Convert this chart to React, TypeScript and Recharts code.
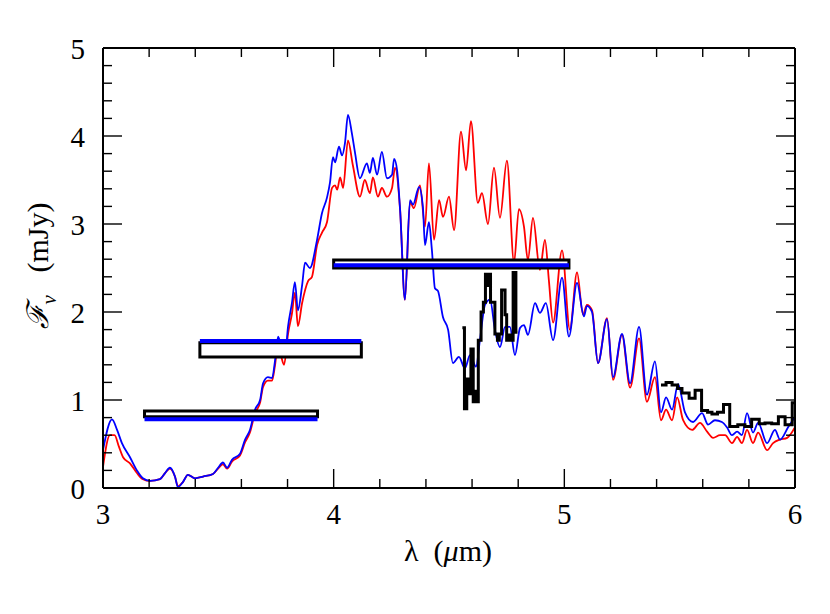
import React from 'react';
import { ComposedChart, Line, XAxis, YAxis, ReferenceArea, ReferenceLine } from 'recharts';

// model spectra, [lambda (um), flux (mJy)]
const redSpectrum: [number, number][] = [
  [3.000, 0.24], [3.030, 0.60], [3.050, 0.60], [3.069, 0.47], [3.087, 0.35], [3.117, 0.28], [3.147, 0.17],
  [3.173, 0.10], [3.204, 0.08], [3.247, 0.10], [3.269, 0.17], [3.290, 0.22], [3.312, 0.13], [3.325, 0.02],
  [3.347, 0.07], [3.368, 0.15], [3.399, 0.11], [3.434, 0.13], [3.477, 0.16], [3.499, 0.22], [3.520, 0.27],
  [3.538, 0.22], [3.559, 0.30], [3.594, 0.37], [3.616, 0.52], [3.637, 0.63], [3.659, 0.85], [3.681, 0.97],
  [3.694, 1.15], [3.715, 1.22], [3.733, 1.22], [3.746, 1.40], [3.759, 1.65], [3.772, 1.50], [3.785, 1.40],
  [3.802, 1.75], [3.819, 1.98], [3.832, 2.22], [3.845, 1.84], [3.863, 2.10], [3.889, 2.35], [3.906, 2.40],
  [3.928, 2.76], [3.949, 2.90], [3.971, 3.02], [3.993, 3.41], [4.006, 3.44], [4.015, 3.39], [4.028, 3.53],
  [4.041, 3.41], [4.062, 3.95], [4.083, 3.67], [4.114, 3.31], [4.135, 3.50], [4.157, 3.35], [4.170, 3.53],
  [4.192, 3.31], [4.209, 3.41], [4.231, 3.31], [4.253, 3.41], [4.266, 3.64], [4.288, 3.16], [4.309, 2.14],
  [4.331, 3.25], [4.348, 3.18], [4.374, 3.44], [4.396, 2.97], [4.413, 3.69], [4.435, 2.82], [4.457, 3.27],
  [4.474, 3.08], [4.500, 3.31], [4.522, 2.93], [4.552, 4.05], [4.574, 3.61], [4.595, 4.17], [4.625, 3.24],
  [4.643, 3.35], [4.669, 3.00], [4.695, 3.64], [4.721, 3.07], [4.751, 3.72], [4.782, 2.56], [4.803, 3.17],
  [4.825, 2.97], [4.842, 2.59], [4.864, 3.07], [4.894, 2.48], [4.916, 2.82], [4.933, 2.36], [4.951, 1.88],
  [4.990, 2.70], [5.024, 1.80], [5.055, 2.45], [5.081, 1.97], [5.098, 2.08], [5.120, 2.02], [5.146, 1.42],
  [5.185, 1.93], [5.211, 1.23], [5.250, 1.74], [5.285, 1.14], [5.324, 1.70], [5.358, 0.98], [5.393, 1.26],
  [5.419, 0.77], [5.441, 0.89], [5.467, 0.77], [5.489, 1.03], [5.515, 0.77], [5.554, 0.66], [5.588, 0.74],
  [5.619, 0.64], [5.645, 0.57], [5.675, 0.60], [5.697, 0.60], [5.727, 0.51], [5.749, 0.58], [5.770, 0.51],
  [5.792, 0.66], [5.818, 0.51], [5.840, 0.63], [5.879, 0.43], [5.905, 0.51], [5.935, 0.55], [5.966, 0.57],
  [6.000, 0.69],
];

const blueSpectrum: [number, number][] = [
  [3.000, 0.43], [3.039, 0.78], [3.061, 0.66], [3.082, 0.51], [3.117, 0.35], [3.147, 0.20], [3.173, 0.11],
  [3.204, 0.08], [3.247, 0.10], [3.269, 0.17], [3.290, 0.23], [3.312, 0.13], [3.325, 0.01], [3.347, 0.07],
  [3.368, 0.15], [3.399, 0.11], [3.434, 0.13], [3.477, 0.16], [3.499, 0.23], [3.520, 0.29], [3.538, 0.23],
  [3.559, 0.32], [3.594, 0.39], [3.616, 0.55], [3.637, 0.66], [3.659, 0.89], [3.681, 1.00], [3.694, 1.19],
  [3.715, 1.26], [3.733, 1.25], [3.746, 1.45], [3.759, 1.72], [3.776, 1.57], [3.789, 1.49], [3.802, 1.83],
  [3.819, 2.10], [3.832, 2.34], [3.845, 2.02], [3.863, 2.30], [3.876, 2.56], [3.897, 2.50], [3.928, 2.82],
  [3.949, 3.12], [3.971, 3.30], [3.984, 3.47], [3.997, 3.76], [4.006, 3.70], [4.023, 3.88], [4.036, 3.78],
  [4.049, 3.92], [4.062, 4.24], [4.079, 4.03], [4.092, 3.82], [4.114, 3.52], [4.144, 3.69], [4.157, 3.58],
  [4.170, 3.75], [4.188, 3.56], [4.209, 3.82], [4.231, 3.52], [4.253, 3.56], [4.262, 3.74], [4.275, 3.61],
  [4.288, 3.16], [4.309, 2.14], [4.331, 3.27], [4.344, 3.22], [4.370, 3.42], [4.387, 3.19], [4.396, 2.76],
  [4.413, 3.02], [4.426, 2.70], [4.439, 2.27], [4.452, 2.24], [4.474, 1.94], [4.496, 1.80], [4.517, 1.42],
  [4.543, 1.49], [4.569, 1.36], [4.591, 1.51], [4.617, 1.38], [4.634, 1.68], [4.656, 2.08], [4.678, 2.14],
  [4.699, 1.80], [4.721, 1.60], [4.743, 1.83], [4.764, 1.83], [4.786, 1.51], [4.808, 1.82], [4.825, 1.85],
  [4.842, 1.74], [4.873, 2.10], [4.894, 1.99], [4.920, 2.10], [4.951, 1.68], [4.990, 2.39], [5.020, 1.72],
  [5.055, 2.33], [5.085, 1.95], [5.098, 2.07], [5.120, 2.00], [5.146, 1.42], [5.185, 1.92], [5.211, 1.26],
  [5.250, 1.75], [5.285, 1.19], [5.324, 1.83], [5.358, 1.06], [5.393, 1.44], [5.419, 0.86], [5.441, 1.03],
  [5.467, 0.89], [5.493, 1.18], [5.523, 0.86], [5.558, 0.75], [5.597, 0.85], [5.623, 0.72], [5.653, 0.77],
  [5.683, 0.75], [5.705, 0.69], [5.727, 0.60], [5.749, 0.64], [5.770, 0.60], [5.792, 0.85], [5.818, 0.63],
  [5.840, 0.74], [5.879, 0.51], [5.913, 0.66], [5.935, 0.55], [5.970, 0.69], [6.000, 0.81],
];

// observed spectrum, binned (left bin edge, flux)
const obsMid: [number, number][] = [
  [4.558, 1.82], [4.567, 0.90], [4.577, 1.24], [4.587, 1.07], [4.595, 1.58], [4.605, 0.98], [4.615, 1.10],
  [4.620, 0.98], [4.627, 1.68], [4.639, 2.00], [4.649, 2.11], [4.658, 2.43], [4.665, 2.30], [4.672, 2.43],
  [4.680, 2.11], [4.690, 2.11], [4.699, 1.75], [4.710, 1.68], [4.718, 1.75], [4.728, 2.25], [4.743, 1.97],
  [4.750, 1.68], [4.760, 1.74], [4.769, 1.68], [4.778, 2.45], [4.790, 1.77], [4.797, 1.77],
];

const obsTail: [number, number][] = [
  [5.419, 1.17], [5.441, 1.20], [5.467, 1.17], [5.491, 1.13], [5.510, 1.08], [5.541, 1.02], [5.567, 1.11],
  [5.595, 0.88], [5.621, 0.86], [5.640, 0.84], [5.664, 0.86], [5.690, 0.95], [5.717, 0.70], [5.752, 0.72],
  [5.783, 0.70], [5.812, 0.78], [5.845, 0.73], [5.870, 0.74], [5.899, 0.73], [5.928, 0.81], [5.957, 0.72],
  [5.988, 0.97], [6.000, 0.97],
];

// photometry: band extent and measured range
const bandBoxes = [
  { x1: 3.18, x2: 3.93, lo: 0.81, hi: 0.875 },
  { x1: 3.42, x2: 4.12, lo: 1.49, hi: 1.65 },
  { x1: 4.0, x2: 5.02, lo: 2.5, hi: 2.59 },
];

const bandModel = [
  { x1: 3.18, x2: 3.93, y: 0.78 },
  { x1: 3.42, x2: 4.12, y: 1.67 },
  { x1: 4.0, x2: 5.02, y: 2.53 },
];

const xTicks = [3, 3.2, 3.4, 3.6, 3.8, 4, 4.2, 4.4, 4.6, 4.8, 5, 5.2, 5.4, 5.6, 5.8, 6];
const yTicks = [0, 0.2, 0.4, 0.6, 0.8, 1, 1.2, 1.4, 1.6, 1.8, 2, 2.2, 2.4, 2.6, 2.8, 3, 3.2, 3.4, 3.6, 3.8, 4, 4.2, 4.4, 4.6, 4.8, 5];

const toPts = (pairs: [number, number][]) => pairs.map(([x, y]) => ({ x, y }));

const FONT = 'Liberation Serif';
const isMajor = (v: number) => Math.abs(v - Math.round(v)) < 1e-6;

const makeTick = (side: 'bottom' | 'top' | 'left' | 'right') => (props: any) => {
  const { x, y, payload } = props;
  const v = payload.value;
  const len = isMajor(v) ? 19 : 9;
  let line;
  if (side === 'bottom') line = <line x1={x} y1={y} x2={x} y2={y - len} />;
  else if (side === 'top') line = <line x1={x} y1={y} x2={x} y2={y + len} />;
  else if (side === 'left') line = <line x1={x} y1={y} x2={x + len} y2={y} />;
  else line = <line x1={x} y1={y} x2={x - len} y2={y} />;
  return (
    <g stroke="#000" strokeWidth={1.4}>
      {line}
      {side === 'bottom' && isMajor(v) && (
        <text x={x} y={y + 36} textAnchor="middle" fontFamily={FONT} fontSize={29} fill="#000" stroke="none">
          {Math.round(v)}
        </text>
      )}
      {side === 'left' && isMajor(v) && (
        <text x={x - 18} y={y + 11} textAnchor="end" fontFamily={FONT} fontSize={29} fill="#000" stroke="none">
          {Math.round(v)}
        </text>
      )}
    </g>
  );
};

const axisLine = { stroke: '#000', strokeWidth: 2 };

export default function App() {
  return (
    <div style={{ width: 814, height: 598, background: '#fff' }}>
      <ComposedChart width={814} height={598} margin={{ top: 0, right: 0, bottom: 0, left: 0 }}>
        <XAxis dataKey="x" type="number" domain={[3, 6]} ticks={xTicks} allowDataOverflow height={118}
          tickLine={false} tickSize={0} tickMargin={0} axisLine={axisLine} tick={makeTick('bottom')} interval={0} />
        <XAxis xAxisId="top" orientation="top" dataKey="x" type="number" domain={[3, 6]} ticks={xTicks} allowDataOverflow height={40}
          tickLine={false} tickSize={0} tickMargin={0} axisLine={axisLine} tick={makeTick('top')} interval={0} />
        <YAxis type="number" domain={[0, 5]} ticks={yTicks} allowDataOverflow width={95}
          tickLine={false} tickSize={0} tickMargin={0} axisLine={axisLine} tick={makeTick('left')} interval={0} />
        <YAxis yAxisId="right" orientation="right" type="number" domain={[0, 5]} ticks={yTicks} allowDataOverflow width={27}
          tickLine={false} tickSize={0} tickMargin={0} axisLine={axisLine} tick={makeTick('right')} interval={0} />

        <Line data={toPts(redSpectrum)} dataKey="y" type="monotone" stroke="#ff0000" strokeWidth={1.8} dot={false} isAnimationActive={false} />
        <Line data={toPts(blueSpectrum)} dataKey="y" type="monotone" stroke="#0000ff" strokeWidth={1.8} dot={false} isAnimationActive={false} />
        <Line data={toPts(obsMid)} dataKey="y" type="stepAfter" stroke="#000" strokeWidth={3} dot={false} isAnimationActive={false} />
        <Line data={toPts(obsTail)} dataKey="y" type="stepAfter" stroke="#000" strokeWidth={3} dot={false} isAnimationActive={false} />

        {bandBoxes.map((b, i) => (
          <ReferenceArea key={'box' + i} x1={b.x1} x2={b.x2} y1={b.lo} y2={b.hi} fill="#fff" fillOpacity={1}
            stroke="#000" strokeWidth={3} zIndex={1500} />
        ))}
        {bandModel.map((b, i) => (
          <ReferenceLine key={'lvl' + i} segment={[{ x: b.x1, y: b.y }, { x: b.x2, y: b.y }]} stroke="#0000ff"
            strokeWidth={4} zIndex={1600} />
        ))}

        <text x={440} y={553} textAnchor="middle" fontFamily={FONT} fontSize={30} fill="#000" style={{ whiteSpace: 'pre' }}>
          {'λ  ('}<tspan fontStyle="italic">μ</tspan>{'m)'}
        </text>
        <text transform="translate(40,258) rotate(-90)" textAnchor="middle" fontFamily={FONT} fontSize={30} fill="#000" style={{ whiteSpace: 'pre' }}>
          <tspan fontStyle="italic">ℱ</tspan>
          <tspan fontSize={21} dy={8} fontStyle="italic">ν</tspan>
          <tspan dy={-8}>{'   (mJy)'}</tspan>
        </text>
      </ComposedChart>
    </div>
  );
}
